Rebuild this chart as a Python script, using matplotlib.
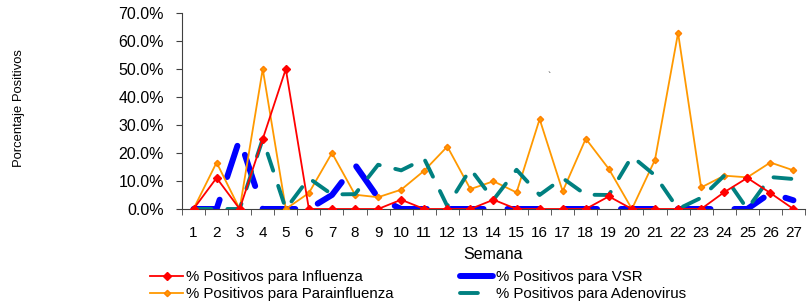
import numpy as np
import matplotlib as mpl
mpl.use('Agg')
import matplotlib.pyplot as plt
from matplotlib.ticker import FuncFormatter, MultipleLocator

plt.rcParams['font.family'] = ['Liberation Sans', 'DejaVu Sans']

semanas = list(range(1, 28))
influenza = [0, 11.1, 0, 25.0, 50.0, 0, 0, 0, 0, 3.3, 0, 0, 0, 3.3, 0, 0, 0, 0,
             4.5, 0, 0, 0, 0, 6.0, 11.1, 5.7, 0]
vsr = [0, 0, 25.0, 0, 0, 0, 5.0, 15.8, 4.0, 0, 0, 0, 0, 0, 0, 0, 0, 0,
       0, 0, 0, 0, 0, 0, 0, 5.7, 3.1]
parainfluenza = [0, 16.6, 0, 50.0, 0, 5.7, 20.0, 5.1, 4.2, 6.9, 13.7, 22.3, 7.1, 9.9,
                 5.9, 32.1, 6.3, 25.1, 14.3, 0, 17.6, 62.9, 7.7, 11.9, 11.3, 16.6, 13.8]
adenovirus = [0, 0, 0, 25.0, 0, 11.0, 5.2, 5.3, 15.8, 13.8, 17.9, 1.0, 14.3, 3.3,
              14.0, 5.0, 11.0, 5.1, 5.0, 18.8, 12.0, 0, 4.0, 11.9, 0, 11.4, 10.7]

fig = plt.figure(figsize=(8.07, 3.02), dpi=100)
ax = fig.add_axes([0.2255, 0.308, 0.772, 0.649])

l_inf, = ax.plot(semanas, influenza, color='#ff0000', lw=1.3, marker='D',
                 markersize=4.5, zorder=5, label='% Positivos para Influenza')
l_vsr, = ax.plot(semanas, vsr, color='#0000ff', lw=4.3, dashes=(5.5, 4),
                 solid_capstyle='round', dash_capstyle='round', zorder=2,
                 label='% Positivos para VSR')
l_par, = ax.plot(semanas, parainfluenza, color='#ff9900', lw=1.3, marker='D',
                 markersize=3.2, markeredgecolor='#ff8000', zorder=3,
                 label='% Positivos para Parainfluenza')
l_ade, = ax.plot(semanas, adenovirus, color='#008080', lw=2.8, dashes=(4.6, 4.1),
                 dash_capstyle='round', zorder=4, label='% Positivos para Adenovirus')

ax.set_xlim(0.5, 27.5)
ax.set_ylim(0, 70)
ax.yaxis.set_major_locator(MultipleLocator(10))
ax.yaxis.set_major_formatter(FuncFormatter(lambda v, p: '%.1f%%' % v))
ax.set_xticks(semanas)
ax.set_xticks(np.arange(0.5, 28, 1), minor=True)
ax.tick_params(axis='x', which='major', length=0, pad=12, labelsize=11)
ax.tick_params(axis='x', which='minor', length=4, color='#404040')
ax.tick_params(axis='y', length=4, color='#404040', labelsize=11.5, pad=9)
for s in ['top', 'right']:
    ax.spines[s].set_visible(False)
for s in ['left', 'bottom']:
    ax.spines[s].set_color('#404040')
ax.set_xlabel('Semana', fontsize=11.5, labelpad=5)
fig.text(0.024, 0.642, 'Porcentaje Positivos', rotation=90, ha='center',
         va='center', fontsize=9.4)
fig.text(0.679, 0.735, '`', fontsize=7, color='#404040')

fig.legend(handles=[l_inf, l_par, l_vsr, l_ade], loc='upper left',
           bbox_to_anchor=(0.186, 0.106), ncol=2, frameon=False, fontsize=10.8,
           handlelength=2.2, handletextpad=0.2, columnspacing=4.4,
           labelspacing=0.2, borderpad=0, borderaxespad=0)

fig.savefig('out.png', dpi=100)
